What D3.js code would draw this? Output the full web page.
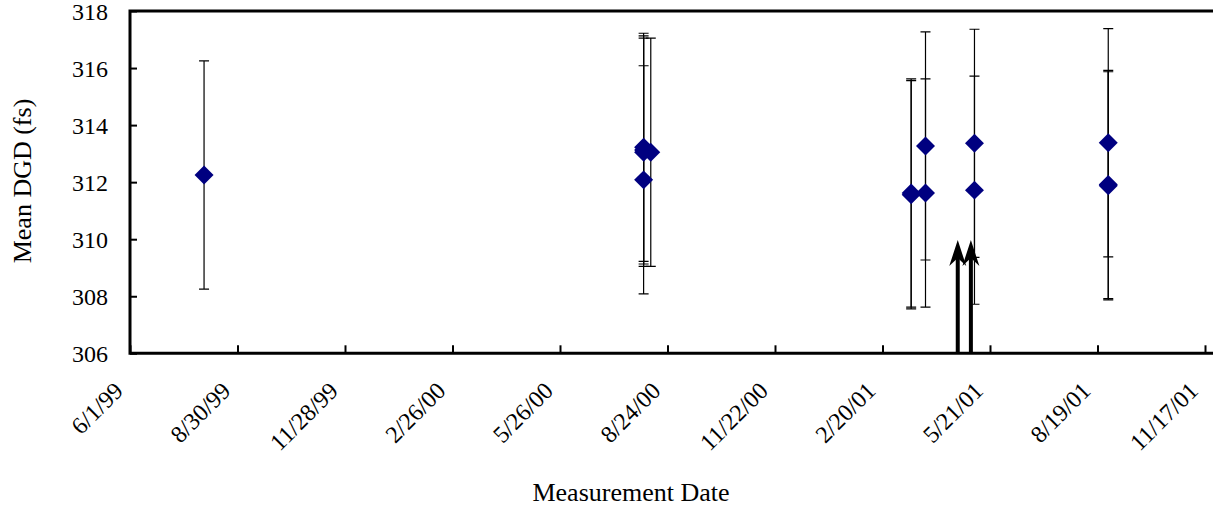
<!DOCTYPE html>
<html>
<head>
<meta charset="utf-8">
<script src="https://cdn.jsdelivr.net/npm/d3@7"></script>
<style>
  body { margin: 0; background: #fff; }
  svg { display: block; }
</style>
</head>
<body>
<div id="wrapper"></div>
<script>
// tick labels on the date axis (every 90 days)
const xTickLabels = ["6/1/99", "8/30/99", "11/28/99", "2/26/00", "5/26/00", "8/24/00",
  "11/22/00", "2/20/01", "5/21/01", "8/19/01", "11/17/01"]
const yTickValues = [306, 308, 310, 312, 314, 316, 318]

// measurements: date, mean DGD (fs), error bar half-width (fs)
const measureDates = ["8/2/99",
  "8/4/00", "8/4/00", "8/4/00", "8/4/00", "8/10/00",
  "3/16/01", "3/16/01", "3/28/01", "3/28/01", "5/8/01", "5/8/01",
  "8/28/01", "8/28/01", "8/28/01"]
const meanDGD = [312.25,
  313.22, 313.13, 313.05, 312.08, 313.05,
  311.62, 311.56, 313.27, 311.62, 313.36, 311.72,
  313.38, 311.92, 311.87]
const dgdError = [4.0,
  4.0, 4.0, 4.0, 4.0, 4.0,
  4.0, 4.0, 4.0, 4.0, 4.0, 4.0,
  4.0, 4.0, 4.0]

// event arrows
const arrowDates = ["4/24/01", "5/5/01"]
const arrowTipDGD = [309.97, 309.97]

const parseDate = d3.utcParse("%m/%d/%y")
const formatDate = d3.utcFormat("%-m/%-d/%y")
const font = "'Liberation Serif', 'Times New Roman', serif"

const data = measureDates.map((d, i) => ({
  date: parseDate(d), dgd: meanDGD[i], err: dgdError[i],
}))

let dims = {
  width: 1213,
  height: 508,
  left: 130,
  lastTick: 1205,
  right: 1213,
  top: 11,
  bottom: 353.3,
}

const svg = d3.select("#wrapper")
  .append("svg")
    .attr("width", dims.width)
    .attr("height", dims.height)

svg.append("rect")
  .attr("width", dims.width)
  .attr("height", dims.height)
  .attr("fill", "#fff")

// scales
const xScale = d3.scaleUtc()
  .domain([parseDate(xTickLabels[0]), parseDate(xTickLabels[xTickLabels.length - 1])])
  .range([dims.left, dims.lastTick])

const yScale = d3.scaleLinear()
  .domain([306, 318])
  .range([dims.bottom, dims.top])

// error bars
const bars = svg.append("g")
  .attr("stroke", "#000")
  .attr("stroke-width", 1.2)

data.forEach(d => {
  const x = xScale(d.date)
  const y0 = yScale(d.dgd - d.err)
  const y1 = yScale(d.dgd + d.err)
  bars.append("path")
    .attr("fill", "none")
    .attr("d", `M${x},${y0}V${y1}M${x - 5},${y0}H${x + 5}M${x - 5},${y1}H${x + 5}`)
})

// diamonds
svg.append("g")
  .selectAll("path")
  .data(data)
  .join("path")
    .attr("d", d3.symbol(d3.symbolSquare, 180))
    .attr("transform", d => `translate(${xScale(d.date)},${yScale(d.dgd)}) rotate(45)`)
    .attr("fill", "#000080")

// arrows
arrowDates.forEach((a, i) => {
  const x = xScale(parseDate(a))
  const tip = yScale(arrowTipDGD[i])
  svg.append("line")
    .attr("x1", x).attr("x2", x)
    .attr("y1", dims.bottom).attr("y2", tip + 16)
    .attr("stroke", "#000")
    .attr("stroke-width", 4)
  svg.append("path")
    .attr("d", `M${x},${tip}L${x + 8.5},${tip + 26}L${x},${tip + 18}L${x - 8.5},${tip + 26}Z`)
    .attr("fill", "#000")
})

// axes
const xAxis = svg.append("g")
  .attr("transform", `translate(0,${dims.bottom})`)
  .call(d3.axisBottom(xScale)
    .tickValues(xTickLabels.map(parseDate))
    .tickFormat(formatDate)
    .tickSizeInner(-8)
    .tickSizeOuter(0))
xAxis.select(".domain").remove()
xAxis.selectAll(".tick line").attr("stroke-width", 2)
xAxis.selectAll(".tick text")
  .attr("x", 0)
  .attr("y", 0)
  .attr("dy", null)
  .attr("text-anchor", "end")
  .attr("transform", "translate(-6,39) rotate(-45)")
  .attr("font-size", 24)
  .attr("font-family", font)
  .attr("fill", "#000")

const yAxis = svg.append("g")
  .attr("transform", `translate(${dims.left},0)`)
  .call(d3.axisLeft(yScale)
    .tickValues(yTickValues)
    .tickSizeInner(-7)
    .tickSizeOuter(0)
    .tickPadding(22))
yAxis.select(".domain").remove()
yAxis.selectAll(".tick line").attr("stroke-width", 2)
yAxis.selectAll(".tick text")
  .attr("dy", "0.36em")
  .attr("font-size", 24)
  .attr("font-family", font)
  .attr("fill", "#000")

// frame
svg.append("path")
  .attr("d", `M${dims.right},${dims.top}H${dims.left}V${dims.bottom}H${dims.right}`)
  .attr("fill", "none")
  .attr("stroke", "#000")
  .attr("stroke-width", 3)
  .attr("stroke-linejoin", "miter")

// titles
svg.append("text")
  .attr("transform", "translate(31,181) rotate(-90)")
  .attr("text-anchor", "middle")
  .attr("font-size", 26)
  .attr("font-family", font)
  .text("Mean DGD (fs)")

svg.append("text")
  .attr("x", 631)
  .attr("y", 501)
  .attr("text-anchor", "middle")
  .attr("font-size", 26)
  .attr("font-family", font)
  .text("Measurement Date")
</script>
</body>
</html>
